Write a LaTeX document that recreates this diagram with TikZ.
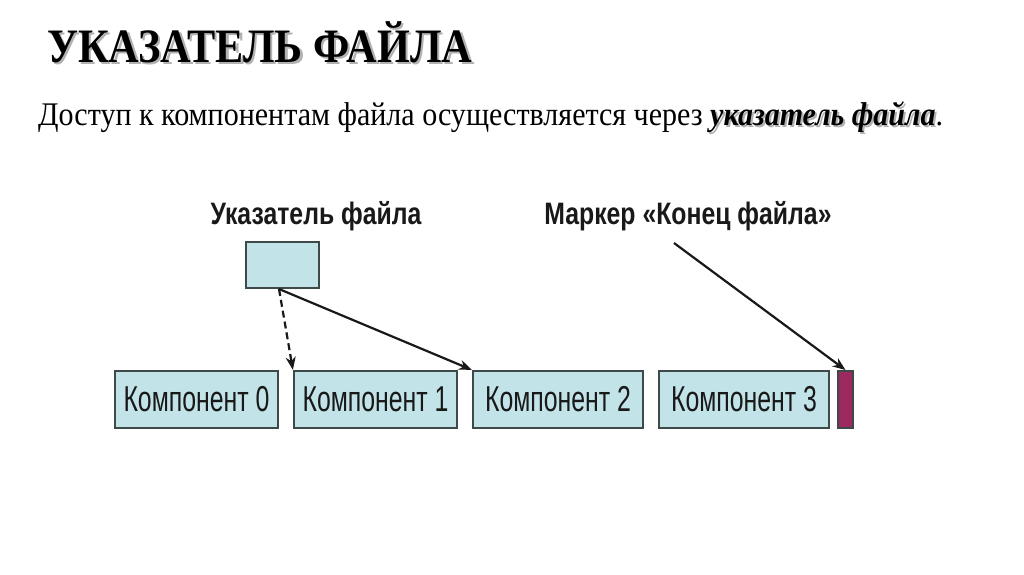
\documentclass[tikz,border=0pt]{standalone}
\usepackage{fontspec}
\setmainfont{Liberation Serif}
\newfontfamily\nsans[FakeStretch=0.69]{Liberation Sans}
\newfontfamily\lsans[FakeStretch=0.80]{Liberation Sans}
\newfontfamily\nserif[FakeStretch=0.91]{Liberation Serif}
\newfontfamily\tserif[FakeStretch=0.88]{Liberation Serif}
\usetikzlibrary{arrows.meta}
\definecolor{boxfill}{HTML}{C2E3E7}
\definecolor{boxline}{HTML}{3E4A4A}
\definecolor{eofcol}{HTML}{9C2A5E}
\tikzset{
  comp/.style={draw=boxline, line width=2.2pt, fill=boxfill, minimum height=57pt, inner sep=0pt, font=\nsans\fontsize{36}{36}\selectfont, text=black!90},
  lbl/.style={font=\lsans\bfseries\fontsize{31}{31}\selectfont, text=black!90, anchor=base, inner sep=0pt},
  arr/.style={-{Stealth[length=13pt,width=10pt]}, line width=2.2pt, black!90},
}
\begin{document}
\begin{tikzpicture}[x=1pt,y=-1pt]
\useasboundingbox (0,0) rectangle (1024,574);
\fill[white] (0,0) rectangle (1024,574);
% title with shadow
\node[anchor=base west, inner sep=0pt, text=black!30, font=\tserif\bfseries\fontsize{48}{48}\selectfont] (tshadow) at (49.5,64.5) {УКАЗАТЕЛЬ ФАЙЛА};
\node[anchor=base west, inner sep=0pt, font=\tserif\bfseries\fontsize{48}{48}\selectfont] (title) at (47,62) {УКАЗАТЕЛЬ ФАЙЛА};
% subtitle
\node[anchor=base west, inner sep=0pt, font=\nserif\fontsize{33}{33}\selectfont] (sub) at (38,125) {Доступ к компонентам файла осуществляется через \textcolor{black!30}{\rlap{\raisebox{-2pt}{\hspace{2pt}\bfseries\itshape указатель файла}}}\textbf{\textit{указатель файла}}.};
% labels
\node[lbl] (plbl) at (316,224) {Указатель файла};
\node[lbl] (mlbl) at (688,224) {Маркер «Конец файла»};
% pointer box
\node[draw=boxline, line width=2.2pt, fill=boxfill, minimum width=73pt, minimum height=46pt, inner sep=0pt] (ptr) at (282.5,265) {};
% components
\node[comp, minimum width=163pt] (c0) at (196.5,399.5) {Компонент 0};
\node[comp, minimum width=163pt] (c1) at (375.5,399.5) {Компонент 1};
\node[comp, minimum width=170pt] (c2) at (558,399.5) {Компонент 2};
\node[comp, minimum width=170pt] (c3) at (744,399.5) {Компонент 3};
\node[draw=boxline, line width=2pt, fill=eofcol, minimum width=15pt, minimum height=57pt, inner sep=0pt] (eof) at (845.5,399.5) {};
% arrows
\coordinate (pa) at (279,289);
\coordinate (mstart) at (674,243);
\draw[arr, dash pattern=on 7pt off 4pt] (pa) -- (c1.north west);
\draw[arr] (pa) -- (c2.north west);
\draw[arr] (mstart) -- (eof.north);
\end{tikzpicture}
\end{document}
